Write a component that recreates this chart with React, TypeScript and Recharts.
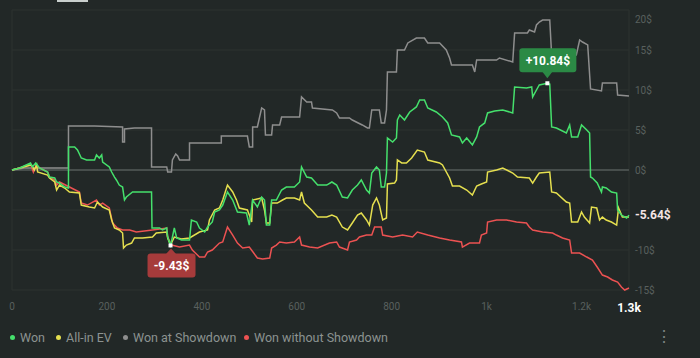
import React from 'react';
import { LineChart, Line, XAxis, YAxis, CartesianGrid, ReferenceLine, ReferenceDot } from 'recharts';

// Hands played (x) and cumulative result in $ (y) for each series
const wonX = [0,16,39,43,50,58,75,79,90,94,100,111,119,119,132,138,146,157,174,178,184,189,191,205,210,216,220,226,233,237,241,254,294,295,311,317,326,328,334,338,342,347,357,374,378,389,395,406,412,422,427,437,444,454,465,475,494,500,507,517,526,532,536,543,547,557,568,578,595,606,610,621,631,644,663,674,684,696,707,717,728,736,747,753,758,768,774,778,785,789,791,802,810,812,817,827,838,852,859,869,876,894,907,918,926,943,949,958,970,979,985,996,1002,1017,1034,1055,1059,1084,1095,1097,1105,1111,1128,1133,1137,1147,1168,1175,1179,1192,1200,1211,1217,1219,1223,1233,1242,1244,1252,1263,1274,1276,1284,1295,1300];
const wonY = [0,0.25,0.88,0.38,0.88,0.25,-0.25,-0.88,-1.0,-1.5,-1.63,-2.13,-2.25,2.88,2.88,2.5,1.5,1.25,1.25,1.88,1.5,1.88,1.0,0.38,-0.25,-0.88,-1.25,-1.88,-2.13,-3.75,-3.38,-2.75,-2.75,-7.25,-7.25,-7.5,-7.25,-8.38,-9.43,-8.38,-7.25,-8.5,-8.75,-8.75,-6.25,-6.5,-7.25,-7.75,-7.13,-6.5,-5.25,-5.0,-4.38,-2.75,-3.75,-5.25,-5.38,-6.88,-3.75,-4.63,-3.38,-3.75,-6.88,-6.88,-3.75,-3.75,-2.5,-2.13,-2.13,-1.5,0.38,-0.88,-1.0,-1.88,-1.88,-1.5,-1.88,-3.38,-3.5,-2.5,-1.88,-1.25,-2.5,-2.88,-0.38,0.38,0,-2.13,-2.13,-0.38,4.0,3.5,4.0,6.25,6.88,6.25,7.25,7.88,8.75,8.75,7.75,7.25,6.63,5.88,4.38,4.13,3.38,4.0,3.13,4.13,5.38,5.88,7.13,7.38,7.5,7.13,10.38,10.25,10.38,9.13,10.0,10.63,10.84,10.75,5.38,5.25,4.63,5.63,4.13,4.13,5.63,5.0,4.63,-0.88,-1.0,-1.63,-2.75,-2.13,-2.25,-2.75,-2.88,-5.0,-5.63,-6.0,-5.64];

const evX = [0,16,41,47,52,54,75,79,90,94,100,111,121,142,146,163,174,180,191,205,210,216,226,233,235,241,252,258,275,296,304,326,328,334,342,357,374,395,412,416,427,437,444,454,465,473,479,496,500,505,507,526,532,536,543,547,559,570,578,595,606,610,616,631,644,663,674,684,696,707,717,728,736,747,753,760,768,774,781,789,791,806,810,812,821,831,842,854,869,876,901,907,922,928,943,958,970,979,989,1000,1002,1021,1034,1055,1065,1090,1097,1105,1111,1133,1137,1147,1168,1175,1179,1192,1200,1206,1217,1221,1232,1238,1244,1252,1263,1274,1278,1286,1300];
const evY = [0,0.25,0.63,0,0.63,-0.25,-0.63,-1.0,-1.5,-2.5,-1.88,-2.25,-2.75,-2.88,-4.38,-4.63,-4.75,-4.0,-4.63,-5.0,-6.25,-7.25,-7.5,-7.88,-9.75,-9.38,-9.13,-8.5,-8.5,-8.38,-7.88,-7.75,-8.5,-9.38,-8.38,-8.63,-8.5,-7.75,-7.5,-6.25,-5.0,-4.75,-3.75,-1.88,-2.75,-3.75,-4.75,-5.0,-5.63,-6.5,-3.75,-3.5,-5.0,-6.63,-6.63,-4.13,-4.13,-3.75,-3.5,-3.5,-3.75,-2.75,-4.13,-5.0,-5.88,-5.88,-5.63,-5.88,-7.13,-7.5,-6.63,-5.63,-5.38,-6.25,-6.88,-4.38,-3.5,-4.38,-6.25,-6.0,-1.75,-1.63,-1.25,1.25,0.88,0.88,1.5,2.5,2.25,1.25,0.88,0.63,-1.0,-2.0,-2.0,-2.5,-3.13,-2.0,-1.75,-1.5,-0.25,0,0.25,-0.38,-0.88,-1.0,-1.63,-0.88,-0.38,-0.25,-2.75,-2.88,-4.0,-4.13,-6.5,-6.5,-5.25,-5.88,-6.63,-4.63,-4.75,-6.25,-5.88,-6.25,-6.5,-6.88,-4.75,-5.88,-5.88];

const sdX = [0,26,119,119,174,233,233,237,237,258,294,294,326,328,336,338,345,349,353,374,374,441,441,496,500,507,507,517,526,532,534,547,549,564,568,606,610,621,631,633,675,684,690,711,717,738,749,753,758,774,778,785,789,791,810,812,827,834,852,869,876,901,915,922,926,970,975,979,1021,1027,1055,1059,1086,1090,1101,1105,1111,1118,1133,1137,1189,1196,1202,1213,1219,1242,1244,1274,1276,1300];
const sdY = [0,0.25,0.25,5.5,5.5,5.38,3.5,3.5,5.13,5.25,5.25,0.38,0.38,-0.25,-0.25,1.25,2.0,1.75,1.25,1.25,3.38,3.38,4.25,4.25,2.88,2.88,5.38,5.38,7.75,7.5,4.38,4.38,5.63,5.63,6.63,6.63,9.13,8.5,8.5,7.75,7.5,7.13,6.5,6.5,6.25,5.63,5.25,5.25,7.5,7.5,5.88,5.88,7.5,12.25,12.25,15.0,15.0,15.88,16.5,16.5,15.88,15.88,15.0,14.0,13.13,13.13,12.25,13.75,13.75,14.0,13.5,17.13,17.13,17.5,17.25,18.13,18.5,18.75,18.75,14.38,14.38,16.25,16.0,15.63,10.13,9.88,10.88,10.88,9.38,9.25];

const nsX = [0,16,39,45,50,75,79,90,94,100,121,142,146,159,178,184,191,205,212,222,233,248,262,296,326,328,336,353,374,380,395,406,412,422,437,444,454,465,475,486,500,517,528,543,547,557,564,578,595,606,610,627,644,669,684,690,707,711,726,732,747,758,764,778,781,802,823,844,854,876,901,922,947,949,964,985,989,1000,1002,1021,1042,1063,1084,1090,1097,1118,1139,1147,1160,1175,1179,1196,1211,1223,1233,1244,1255,1265,1276,1284,1291,1300];
const nsY = [0,0.25,0.75,-0.25,0.5,-0.25,-0.88,-1.25,-1.88,-1.5,-2.13,-2.75,-4.13,-4.38,-3.75,-4.38,-4.13,-4.75,-6.63,-7.25,-7.5,-7.5,-7.75,-7.5,-7.25,-8.38,-9.38,-9.63,-9.38,-10.0,-10.88,-10.88,-10.25,-10.0,-9.13,-9.0,-7.13,-8.13,-9.13,-9.75,-9.63,-11.0,-11.13,-11.0,-9.75,-9.38,-9.0,-9.13,-9.0,-8.38,-9.38,-9.63,-9.75,-9.13,-9.0,-9.63,-10.0,-9.0,-8.75,-8.38,-8.13,-8.13,-7.13,-7.13,-8.13,-8.38,-8.13,-8.38,-7.75,-8.13,-8.5,-8.75,-9.0,-9.63,-9.13,-9.13,-8.13,-7.88,-6.5,-6.25,-6.25,-6.5,-6.63,-7.13,-7.5,-7.75,-7.88,-8.13,-8.5,-8.75,-10.38,-10.38,-10.88,-11.25,-12.13,-13.13,-13.38,-13.75,-14.0,-14.63,-15.0,-14.75];

const xTicks = [0, 200, 400, 600, 800, 1000, 1200, 1300];
const xTickLabels = ['0', '200', '400', '600', '800', '1k', '1.2k', '1.3k'];
const yTicks = [-15, -10, -5, 0, 5, 10, 15, 20];
const yTickLabels = ['-15$', '-10$', '', '0$', '5$', '10$', '15$', '20$'];

const legendNames = ['Won', 'All-in EV', 'Won at Showdown', 'Won without Showdown'];
const COLORS = { won: '#45e06c', ev: '#e5df4f', sd: '#8e8e8e', ns: '#ec5252' };
const legendColors = [COLORS.won, COLORS.ev, COLORS.sd, COLORS.ns];
const legendLeft = [10, 56, 123, 244];

const toData = (xs: number[], ys: number[]) => xs.map((x, i) => ({ x, y: ys[i] }));
const wonData = toData(wonX, wonY);
const evData = toData(evX, evY);
const sdData = toData(sdX, sdY);
const nsData = toData(nsX, nsY);

const maxPt = wonData.reduce((a, b) => (b.y > a.y ? b : a));
const minPt = wonData.reduce((a, b) => (b.y < a.y ? b : a));
const lastPt = wonData[wonData.length - 1];
const fmt = (v: number) => `${v > 0 ? '+' : ''}${v.toFixed(2)}$`;

const FONT = 'Roboto, Arial, sans-serif';

const XTick = (props: any) => {
  const { x, y, payload } = props;
  const idx = xTicks.indexOf(payload.value);
  const isLast = payload.value === 1300;
  return (
    <text x={x} y={y} dy={isLast ? 14 : 12} textAnchor="middle" fontFamily={FONT}
      fill={isLast ? '#ffffff' : '#59605e'} fontSize={isLast ? 12 : 10} fontWeight={isLast ? 700 : 400}>
      {xTickLabels[idx]}
    </text>
  );
};

const YTick = (props: any) => {
  const { x, y, payload } = props;
  const idx = yTicks.indexOf(payload.value);
  const label = yTickLabels[idx];
  if (!label) return <g />;
  const shift = payload.value === 20 ? 9 : 0;
  return (
    <text x={x - 2} y={y + shift} dy={3.5} textAnchor="start" fontFamily={FONT} fill="#59605e" fontSize={10}>
      {label}
    </text>
  );
};

const MaxMarker = (props: any) => {
  const { cx, cy } = props;
  const c = '#2b8a45';
  return (
    <g>
      <rect x={cx - 28} y={cy - 35} width={57} height={24} rx={3} fill={c} />
      <path d={`M${cx - 5},${cy - 11.5} L${cx + 5},${cy - 11.5} L${cx},${cy - 5} Z`} fill={c} />
      <rect x={cx - 2} y={cy - 2} width={4} height={4} fill="#ffffff" />
      <text x={cx + 0.5} y={cy - 23} dy={4.3} textAnchor="middle" fill="#ffffff" fontSize={12} fontWeight={700} fontFamily={FONT}>
        {fmt(maxPt.y)}
      </text>
    </g>
  );
};

const MinMarker = (props: any) => {
  const { cx, cy } = props;
  const c = '#a63b3b';
  return (
    <g>
      <rect x={cx - 23} y={cy + 8} width={48} height={24} rx={3} fill={c} />
      <path d={`M${cx - 4.5},${cy + 8.5} L${cx + 5.5},${cy + 8.5} L${cx + 0.5},${cy + 3} Z`} fill={c} />
      <rect x={cx - 2} y={cy - 2} width={4} height={4} fill="#ffffff" />
      <text x={cx + 1} y={cy + 20} dy={4.3} textAnchor="middle" fill="#ffffff" fontSize={12} fontWeight={700} fontFamily={FONT}>
        {fmt(minPt.y)}
      </text>
    </g>
  );
};

const EndMarker = (props: any) => {
  const { cx, cy } = props;
  return (
    <text x={cx + 6} y={cy} dy={4.3} textAnchor="start" fill="#f4e4e4" fontSize={12} fontWeight={700} fontFamily={FONT}>
      {fmt(lastPt.y)}
    </text>
  );
};

export default function App() {
  return (
    <div style={{ position: 'fixed', left: 0, top: 0, width: 700, height: 358, background: '#222827', overflow: 'hidden', fontFamily: FONT }}>
      <div style={{ position: 'absolute', left: 57, top: 0, width: 31, height: 2, background: '#c9cfcd' }} />
      <LineChart width={700} height={320} margin={{ top: 10, right: 0, left: 12, bottom: 0 }}>
        <CartesianGrid vertical={false} stroke="#2c3331" strokeWidth={1} />
        <XAxis dataKey="x" type="number" domain={[0, 1300]} ticks={xTicks} interval={0}
          axisLine={false} tickLine={false} height={30} tick={<XTick />} />
        <YAxis orientation="right" type="number" domain={[-15, 20]} ticks={yTicks} interval={0}
          axisLine={false} tickLine={false} width={71} tick={<YTick />} />
        <ReferenceLine x={0} stroke="#2c3331" />
        <ReferenceLine x={1300} stroke="#2c3331" />
        <ReferenceLine y={0} stroke="#474e4c" strokeWidth={2} />
        <Line data={sdData} dataKey="y" type="linear" stroke={COLORS.sd} strokeWidth={1.5} dot={false} activeDot={false} isAnimationActive={false} />
        <Line data={nsData} dataKey="y" type="linear" stroke={COLORS.ns} strokeWidth={1.5} dot={false} activeDot={false} isAnimationActive={false} />
        <Line data={evData} dataKey="y" type="linear" stroke={COLORS.ev} strokeWidth={1.5} dot={false} activeDot={false} isAnimationActive={false} />
        <Line data={wonData} dataKey="y" type="linear" stroke={COLORS.won} strokeWidth={1.5} dot={false} activeDot={false} isAnimationActive={false} />
        <ReferenceDot x={maxPt.x} y={maxPt.y} ifOverflow="visible" shape={<MaxMarker />} />
        <ReferenceDot x={minPt.x} y={minPt.y} ifOverflow="visible" shape={<MinMarker />} />
        <ReferenceDot x={lastPt.x} y={lastPt.y} ifOverflow="visible" shape={<EndMarker />} />
      </LineChart>
      {legendNames.map((name, i) => (
        <div key={name} style={{ position: 'absolute', left: legendLeft[i], top: 329, height: 17, display: 'flex', alignItems: 'center', fontSize: 12.5, color: '#8c9391', whiteSpace: 'nowrap' }}>
          <span style={{ display: 'inline-block', width: 5, height: 5, borderRadius: '50%', background: legendColors[i], marginRight: 5 }} />
          {name}
        </div>
      ))}
      <div style={{ position: 'absolute', left: 656, top: 327, fontSize: 16, color: '#7d8482', lineHeight: '20px' }}>⋮</div>
    </div>
  );
}
